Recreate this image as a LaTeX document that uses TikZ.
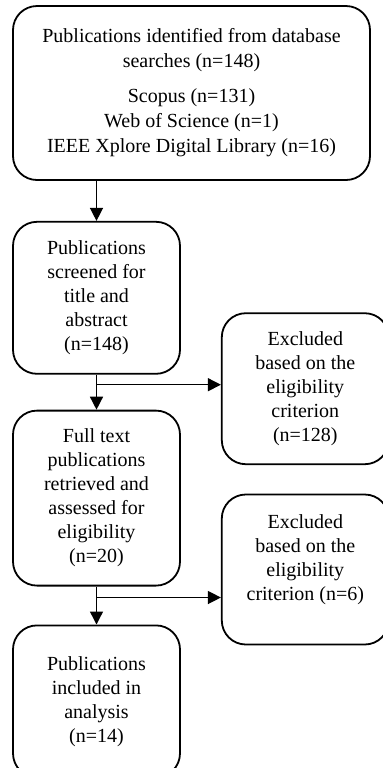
\documentclass[tikz,border=0pt]{standalone}
\usepackage{fontspec}
\setmainfont{Liberation Serif}
\usetikzlibrary{arrows.meta,positioning,calc}

\begin{document}
\begin{tikzpicture}[->,>={Triangle[length=6.5pt,width=6.5pt]},line width=0.7pt,
			node distance=20pt]
			\tikzstyle{box}=[draw=black,line width=0.9pt,rounded corners=12pt,align=center,inner sep=0pt,
			minimum width=83.5pt,minimum height=76pt,font=\fontsize{10}{12}\selectfont]
			\useasboundingbox (0,0) rectangle (191pt,-384pt);
			
			\node[box, minimum width=178.5pt, minimum height=87pt,
			font=\fontsize{10}{12.5}\selectfont] (search) at (95.75pt,-46.5pt)
			{Publications identified from database\\ searches (n=148)\\[5pt]
			Scopus (n=131)\\ Web of Science (n=1)\\ IEEE Xplore Digital Library (n=16)};
			\node[box]    (screen)[below right=20pt and 0pt of search.south west]
			{Publications\\ screened for\\ title and\\ abstract\\ (n=148)};
			\node[box, minimum height=87.5pt]    (full)[below=17.5pt of screen]
			{Full text\\ publications\\ retrieved and\\ assessed for\\ eligibility\\ (n=20)};
			\node[box]    (incl)[below=19pt of full]
			{Publications\\ included in\\ analysis\\ (n=14)};
			
			% branch points for the exclusions
			\coordinate[below=5pt of screen.south] (b1);
			\coordinate[below=5.5pt of full.south] (b2);
			\coordinate (e1) at (screen.east |- b1);
			\coordinate (e2) at (full.east |- b2);
			\node[box, minimum height=75.5pt]    (excl1)[right=20pt of e1, yshift=-2pt]
			{Excluded\\ based on the\\ eligibility\\ criterion\\ (n=128)};
			\node[box, minimum height=75pt]    (excl2)[right=20pt of e2, yshift=14pt]
			{Excluded\\ based on the\\ eligibility\\ criterion (n=6)\\ ~};
			
			\draw (screen.north |- search.south) -- (screen.north);
			\draw (screen.south) -- (full.north);
			\draw (full.south) -- (incl.north);
			\draw (b1) -- (excl1.west |- b1);
			\draw (b2) -- (excl2.west |- b2);
			
\end{tikzpicture}
\end{document}
